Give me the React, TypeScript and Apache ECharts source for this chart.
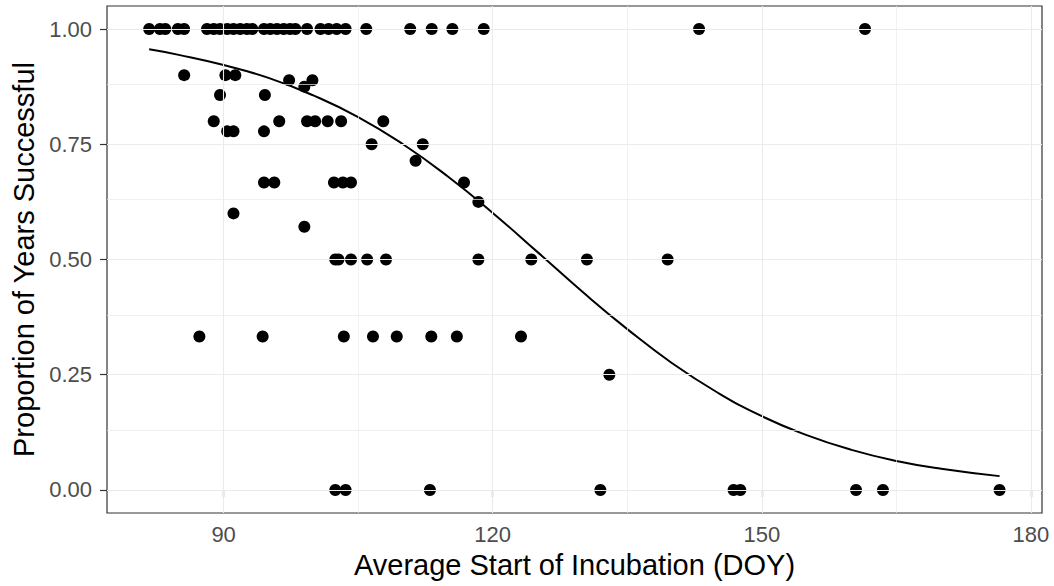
import React, { useEffect, useRef } from "react";
import * as echarts from "echarts";

// Proportion of years successful (one level per row) and the DOY values observed at that level
const levelProportion = [1, 0.9, 0.889, 0.875, 0.857, 0.8, 0.778, 0.75, 0.714, 0.667, 0.625, 0.6, 0.571, 0.5, 0.333, 0.25, 0];
const levelDOY: number[][] = [
  [81.7, 82.9, 83.5, 84.9, 85.6, 88.15, 88.9, 89.6, 90.4, 91.1, 91.85, 92.6, 93.2, 94.5, 95.2, 95.95, 96.7, 97.4, 98.0, 99.3, 100.8, 101.7, 102.6, 103.6, 105.9, 110.8, 113.2, 115.5, 119.0, 143.0, 161.5],
  [85.6, 90.2, 91.3],
  [97.3, 99.9],
  [99.0],
  [89.6, 94.6],
  [88.9, 96.2, 99.3, 100.2, 101.6, 103.1, 107.8],
  [90.4, 91.1, 94.5],
  [106.5, 112.2],
  [111.4],
  [94.5, 95.65, 102.3, 103.3, 104.2, 116.8],
  [118.4],
  [91.1],
  [99.0],
  [102.45, 102.8, 104.2, 106.0, 108.1, 118.4, 124.3, 130.5, 139.5],
  [87.3, 94.35, 103.4, 106.65, 109.3, 113.15, 116.0, 123.15],
  [133.0],
  [102.45, 103.6, 113.0, 132.0, 146.85, 147.6, 160.5, 163.5, 176.5],
];

// Fitted curve
const fitDOY = [81.7, 85, 90, 95, 100, 105, 110, 115, 120, 125, 130, 135, 140, 145, 150, 155, 160, 165, 170, 176.5];
const fitProportion = [0.956, 0.944, 0.922, 0.894, 0.856, 0.809, 0.75, 0.68, 0.601, 0.516, 0.43, 0.349, 0.275, 0.212, 0.16, 0.119, 0.087, 0.063, 0.046, 0.03];

// Ticks and grid lines
const xTicks = [90, 120, 150, 180];
const xMinorGrid = [105, 135, 165];
const yTicks = [0, 0.25, 0.5, 0.75, 1];
const yMinorGrid = [0.125, 0.375, 0.625, 0.875];

const xTitle = "Average Start of Incubation (DOY)";
const yTitle = "Proportion of Years Successful";

const FONT = "'Liberation Sans', Arial, sans-serif";

export default function App() {
  const ref = useRef<HTMLDivElement>(null);

  useEffect(() => {
    if (!ref.current) return;
    const chart = echarts.init(ref.current, undefined, { renderer: "svg" });

    const points: number[][] = [];
    levelProportion.forEach((p, i) => {
      levelDOY[i].forEach((d) => points.push([d, p]));
    });
    const curve = fitDOY.map((d, i) => [d, fitProportion[i]]);

    const gridLine = (key: "xAxis" | "yAxis", v: number, width: number) => ({
      [key]: v,
      lineStyle: { color: "#EBEBEB", width, type: "solid", opacity: 1 },
    });

    chart.setOption({
      animation: false,
      backgroundColor: "#ffffff",
      grid: {
        left: 107,
        right: 12,
        top: 6,
        bottom: 73,
        show: true,
        borderColor: "#333333",
        borderWidth: 1.2,
        backgroundColor: "transparent",
        containLabel: false,
      },
      xAxis: {
        type: "value",
        min: 77.0,
        max: 181.23,
        name: xTitle,
        nameLocation: "middle",
        nameGap: 37,
        nameTextStyle: { color: "#000000", fontSize: 29, fontFamily: FONT },
        axisLine: { show: false },
        splitLine: { show: false },
        axisTick: {
          show: true,
          length: 7,
          customValues: xTicks,
          lineStyle: { color: "#333333", width: 1.2 },
        },
        axisLabel: {
          customValues: xTicks,
          margin: 10,
          color: "#4D4D4D",
          fontSize: 22,
          fontFamily: FONT,
        },
      },
      yAxis: {
        type: "value",
        min: -0.05,
        max: 1.05,
        name: yTitle,
        nameLocation: "middle",
        nameGap: 66,
        nameTextStyle: { color: "#000000", fontSize: 29, fontFamily: FONT },
        axisLine: { show: false },
        splitLine: { show: false },
        axisTick: {
          show: true,
          length: 7,
          customValues: yTicks,
          lineStyle: { color: "#333333", width: 1.2 },
        },
        axisLabel: {
          customValues: yTicks,
          margin: 15,
          color: "#4D4D4D",
          fontSize: 22,
          fontFamily: FONT,
          formatter: (v: number) => v.toFixed(2),
        },
      },
      series: [
        {
          type: "line",
          data: [],
          z: 0,
          silent: true,
          markLine: {
            silent: true,
            symbol: "none",
            label: { show: false },
            animation: false,
            lineStyle: { type: "solid", color: "#EBEBEB", opacity: 1 },
            data: [
              ...xMinorGrid.map((v) => gridLine("xAxis", v, 0.7)),
              ...yMinorGrid.map((v) => gridLine("yAxis", v, 0.7)),
              ...xTicks.map((v) => gridLine("xAxis", v, 1.1)),
              ...yTicks.map((v) => gridLine("yAxis", v, 1.1)),
            ],
          },
        },
        {
          type: "scatter",
          data: points,
          symbol: "circle",
          symbolSize: 12,
          itemStyle: { color: "#000000", opacity: 1 },
          z: 3,
          silent: true,
        },
        {
          type: "line",
          data: curve,
          smooth: true,
          showSymbol: false,
          symbol: "none",
          lineStyle: { color: "#000000", width: 2 },
          z: 4,
          silent: true,
        },
      ],
    });

    return () => chart.dispose();
  }, []);

  return (
    <div
      ref={ref}
      style={{ position: "fixed", left: 0, top: 0, width: 1054, height: 586, background: "#fff" }}
    />
  );
}
